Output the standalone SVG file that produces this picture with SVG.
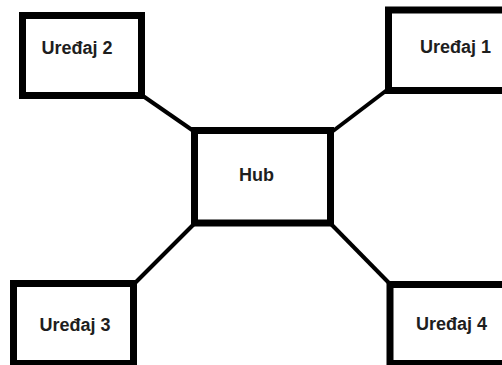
<svg xmlns="http://www.w3.org/2000/svg" width="502" height="365" viewBox="0 0 502 365">
<style>
.box{fill:#fff;stroke:#000;stroke-width:7}
.lbl{font-family:"Liberation Sans",Arial,sans-serif;font-weight:bold;font-size:18px;fill:#1e1e1e;text-anchor:middle}
.conn{stroke:#000;stroke-width:4;stroke-linecap:butt;fill:none}
</style>
<rect width="502" height="365" fill="#fff"/>
<g id="connectors">
<line class="conn" x1="333" y1="131" x2="387" y2="90"/>
<line class="conn" x1="143" y1="96" x2="195" y2="132"/>
<line class="conn" x1="194" y1="224" x2="135" y2="283"/>
<line class="conn" x1="331" y1="224" x2="389" y2="283"/>
</g>
<g id="uredjaj1">
<rect class="box" x="388.5" y="10" width="130" height="80.5"/>
<text class="lbl" x="455.5" y="53">Uređaj 1</text>
</g>
<g id="uredjaj2">
<rect class="box" x="22.5" y="15.5" width="119" height="80"/>
<text class="lbl" x="77" y="54">Uređaj 2</text>
</g>
<g id="hub">
<rect class="box" x="194.5" y="130.5" width="136" height="92.5"/>
<text class="lbl" x="256.5" y="181">Hub</text>
</g>
<g id="uredjaj3">
<rect class="box" x="13.5" y="283.5" width="120" height="80"/>
<text class="lbl" x="75" y="331">Uređaj 3</text>
</g>
<g id="uredjaj4">
<rect class="box" x="390" y="284.5" width="130" height="79"/>
<text class="lbl" x="451.5" y="330">Uređaj 4</text>
</g>
</svg>
